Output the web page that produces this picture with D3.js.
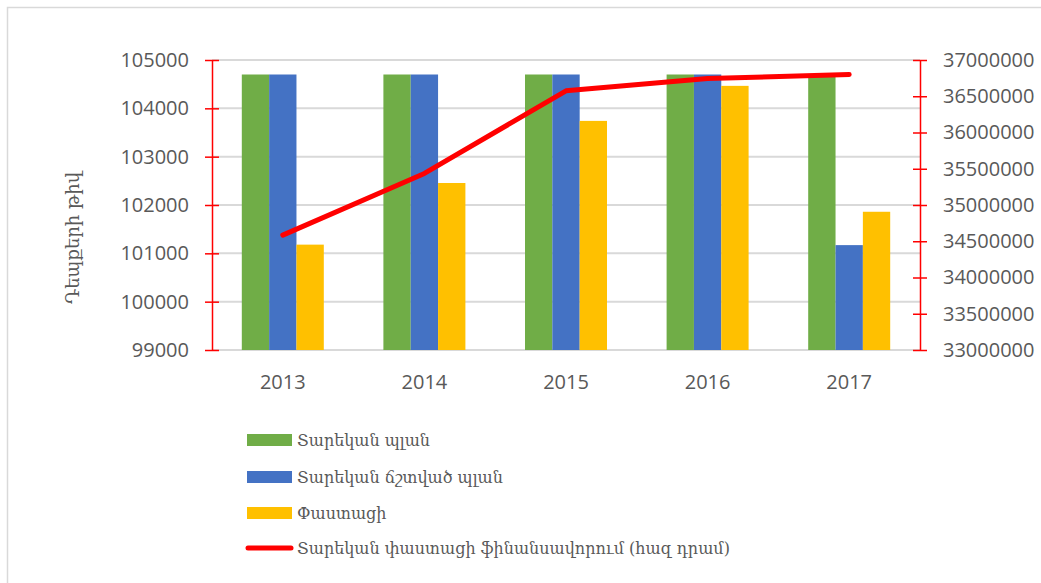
<!DOCTYPE html>
<html>
<head>
<meta charset="utf-8">
<style>
body { margin: 0; background: #fff; }
text { font-family: "Open Sans", "DejaVu Sans", sans-serif; fill: #595959; }
.arm { font-family: "DejaVu Serif", serif; }
</style>
</head>
<body>
<svg width="1041" height="583"></svg>
<script src="https://d3js.org/d3.v7.min.js"></script>
<script>
var svg = d3.select("svg"),
    width = +svg.attr("width"),
    height = +svg.attr("height");

// data
var years = ["2013", "2014", "2015", "2016", "2017"];
var plan = [104700, 104700, 104700, 104700, 104700];
var planCorrected = [104700, 104700, 104700, 104700, 101170];
var actual = [101180, 102455, 103740, 104465, 101860];
var funding = [34585000, 35435000, 36575000, 36745000, 36800000];
var leftTicks = [99000, 100000, 101000, 102000, 103000, 104000, 105000];
var rightTicks = [33000000, 33500000, 34000000, 34500000, 35000000, 35500000, 36000000, 36500000, 37000000];
var seriesNames = ["Տարեկան պլան", "Տարեկան ճշտված պլան", "Փաստացի", "Տարեկան փաստացի ֆինանսավորում (հազ դրամ)"];
var colors = ["#70AD47", "#4472C4", "#FFC000", "#FF0000"];

var plotL = 212, plotR = 920, plotT = 60, plotB = 350;

// frame
svg.append("rect")
    .attr("x", 7.5).attr("y", 7.5)
    .attr("width", width + 20).attr("height", height + 20)
    .attr("fill", "none").attr("stroke", "#d9d9d9").attr("stroke-width", 1.5);

var x = d3.scaleBand().domain(years).range([plotL, plotR]);
var x1 = d3.scaleBand().domain([0, 1, 2]).range([0, 82]);
var y = d3.scaleLinear().domain([99000, 105000]).range([plotB, plotT]);
var y2 = d3.scaleLinear().domain([33000000, 37000000]).range([plotB, plotT]);

// gridlines
svg.append("g")
  .selectAll("line")
  .data(leftTicks)
  .enter().append("line")
    .attr("x1", plotL).attr("x2", plotR)
    .attr("y1", function(d) { return y(d); })
    .attr("y2", function(d) { return y(d); })
    .attr("stroke", "#d9d9d9").attr("stroke-width", 2);

// bars
var bars = [plan, planCorrected, actual];
var off = (x.bandwidth() - 82) / 2;
bars.forEach(function(vals, s) {
  svg.append("g")
    .selectAll("rect")
    .data(vals)
    .enter().append("rect")
      .attr("x", function(d, i) { return x(years[i]) + off + x1(s); })
      .attr("y", function(d) { return y(d); })
      .attr("width", x1.bandwidth())
      .attr("height", function(d) { return y(99000) - y(d); })
      .attr("fill", colors[s]);
});

// axes
var axL = svg.append("g")
    .attr("transform", "translate(" + plotL + ",0)")
    .call(d3.axisLeft(y).tickValues(leftTicks).tickFormat(d3.format("d")).tickSizeInner(7).tickSizeOuter(0).tickPadding(16));
var axR = svg.append("g")
    .attr("transform", "translate(" + plotR + ",0)")
    .call(d3.axisRight(y2).tickValues(rightTicks).tickFormat(d3.format("d")).tickSizeInner(7).tickSizeOuter(0).tickPadding(16));
[axL, axR].forEach(function(ax) {
  ax.select(".domain").attr("stroke", "#FF0000").attr("stroke-width", 1.5);
  ax.selectAll(".tick line").attr("stroke", "#FF0000").attr("stroke-width", 1.5)
    .attr("x1", function() { return ax === axL ? 7 : -7; });
  ax.selectAll(".tick text").attr("font-size", 20).attr("fill", "#595959")
    .style("font-family", "'Open Sans', sans-serif");
});

// year labels
svg.append("g")
  .selectAll("text")
  .data(years)
  .enter().append("text")
    .attr("x", function(d) { return x(d) + x.bandwidth() / 2; })
    .attr("y", 389)
    .attr("text-anchor", "middle")
    .attr("font-size", 20)
    .text(function(d) { return d; });

// line
var line = d3.line()
    .x(function(d, i) { return x(years[i]) + x.bandwidth() / 2; })
    .y(function(d) { return y2(d); });
svg.append("path")
    .datum(funding)
    .attr("d", line)
    .attr("fill", "none")
    .attr("stroke", colors[3])
    .attr("stroke-width", 5)
    .attr("stroke-linecap", "round")
    .attr("stroke-linejoin", "round");

// y title
svg.append("text")
    .attr("class", "arm")
    .attr("transform", "translate(79,238) rotate(-90)")
    .attr("text-anchor", "middle")
    .attr("font-size", 18)
    .text("Դեպքերի թիվ");

// legend
var legend = svg.append("g");
var rowsY = [440, 477, 513, 548];
seriesNames.forEach(function(name, i) {
  if (i < 3) {
    legend.append("rect")
      .attr("x", 247).attr("y", rowsY[i] - 6)
      .attr("width", 45).attr("height", 12)
      .attr("fill", colors[i]);
  } else {
    legend.append("line")
      .attr("x1", 248).attr("x2", 291)
      .attr("y1", rowsY[i]).attr("y2", rowsY[i])
      .attr("stroke", colors[i]).attr("stroke-width", 5)
      .attr("stroke-linecap", "round");
  }
  legend.append("text")
    .attr("class", "arm")
    .attr("x", 297).attr("y", rowsY[i] + 6)
    .attr("font-size", 16)
    .text(name);
});
</script>
</body>
</html>
